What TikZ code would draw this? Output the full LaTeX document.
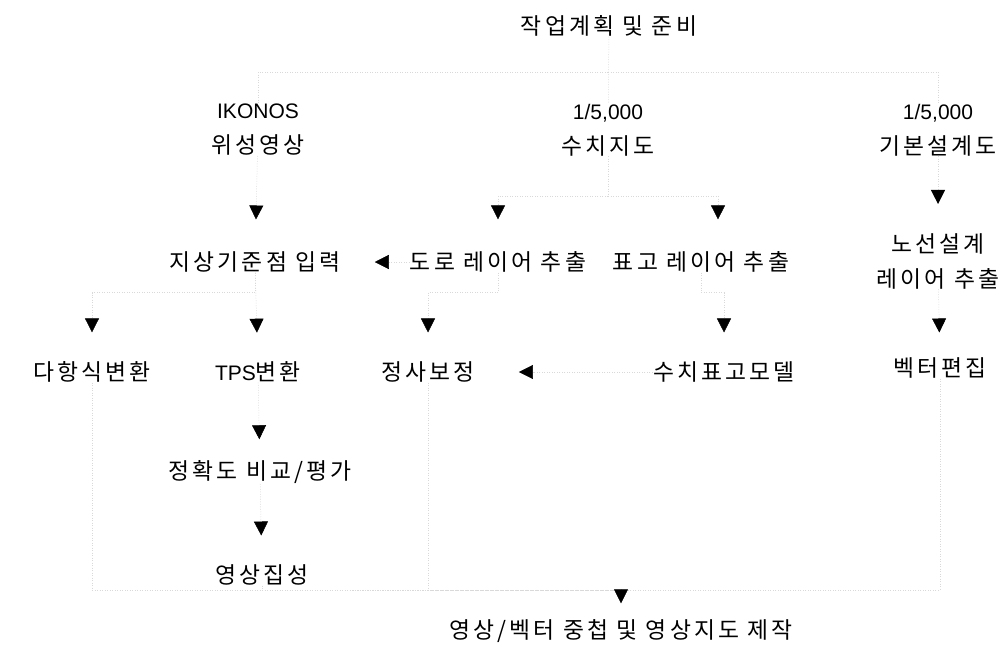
\documentclass[tikz,border=0pt]{standalone}
\usepackage{fontspec}
\newfontfamily\krfam[LetterSpace=14]{Noto Sans CJK KR}
\newfontfamily\lafam{Liberation Sans}
\usetikzlibrary{arrows.meta}
\newcommand\krf{\krfam\fontsize{22.8}{35}\selectfont}
\newcommand\laf{\lafam\fontsize{21}{35}\selectfont}
\begin{document}
\begin{tikzpicture}[x=1pt,y=-1pt,
  txt/.style={inner sep=0pt, font=\krf, align=center},
  link/.style={draw=gray!30, line width=0.5pt, dash pattern=on 1pt off 1.5pt},
  arr/.style={link, -{Triangle[width=14pt,length=14pt,color=black,fill=black]}}]
\useasboundingbox (0,0) rectangle (1003,656);
% nodes
\node[txt] (plan)   at (609,26)  {작업계획 및 준비};
\node[txt] (ikonos) at (258,130) {{\laf IKONOS}\\위성영상};
\node[txt] (map)    at (608,130) {{\laf 1/5,000}\\수치지도};
\node[txt] (design) at (938,130) {{\laf 1/5,000}\\기본설계도};
\node[txt] (gcp)    at (255,262) {지상기준점 입력};
\node[txt] (road)   at (498,262) {도로 레이어 추출};
\node[txt] (elev)   at (701,262) {표고 레이어 추출};
\node[txt] (route)  at (938,261) {노선설계\\레이어 추출};
\node[txt] (poly)   at (92,372)  {다항식변환};
\node[txt] (tps)    at (258,372) {{\laf TPS}변환};
\node[txt] (ortho)  at (428,372) {정사보정};
\node[txt] (dem)    at (724,372) {수치표고모델};
\node[txt] (vec)    at (940,368) {벡터편집};
\node[txt] (acc)    at (260,472) {정확도 비교/평가};
\node[txt] (mosaic) at (262,575) {영상집성};
\node[txt] (final)  at (621,631) {영상/벡터 중첩 및 영상지도 제작};
\coordinate (pbus) at (608,72);
\coordinate (fbus) at (621,590);
% connectors
\draw[link] (plan) -- (map);
\draw[link] (pbus) -| (ikonos);
\draw[link] (pbus) -| (design);
\draw[arr, shorten >=32pt] (ikonos) -- (gcp);
\draw[arr, shorten >=32pt] (map.south) -- ++(0,40) -| (road.north);
\draw[arr, shorten >=32pt] (map.south) -- ++(0,40) -| ([xshift=17pt]elev.north);
\draw[arr, shorten >=29pt] (design) -- (route);
\draw[arr, shorten >=34pt] (road) -- (gcp);
\draw[arr, shorten >=29pt] (gcp.south) -- ++(0,20) -| (poly.north);
\draw[arr, shorten >=29pt] (gcp) -- (tps);
\draw[arr, shorten >=29pt] (road.south) -- ++(0,20) -| (ortho.north);
\draw[arr, shorten >=29pt] (elev.south) -- ++(0,20) -| (dem.north);
\draw[arr, shorten >=25pt] (route) -- (vec);
\draw[arr, shorten >=44pt] (dem) -- (ortho);
\draw[arr, shorten >=21pt] (tps) -- (acc);
\draw[arr, shorten >=29pt] (acc) -- (mosaic);
\draw[link] (poly) |- (fbus);
\draw[link] (mosaic) |- (fbus);
\draw[link] (ortho) |- (fbus);
\draw[link] (vec) |- (fbus);
\draw[arr, shorten >=16pt] (fbus) -- (final);
\end{tikzpicture}
\end{document}
